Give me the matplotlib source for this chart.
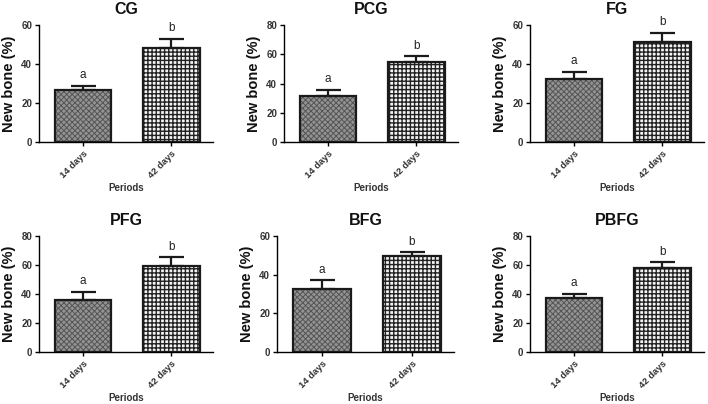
import matplotlib
matplotlib.use("Agg")
import matplotlib.pyplot as plt
import numpy as np

plt.rcParams['font.family'] = ['Liberation Sans', 'DejaVu Sans']

groups = ["CG", "PCG", "FG", "PFG", "BFG", "PBFG"]
periods = ["14 days", "42 days"]
means = {
    "CG":   [26.7, 48.4],
    "PCG":  [31.5, 54.7],
    "FG":   [32.1, 51.3],
    "PFG":  [36.0, 59.4],
    "BFG":  [32.7, 49.8],
    "PBFG": [37.4, 58.0],
}
errors = {
    "CG":   [2.0, 4.4],
    "PCG":  [4.0, 3.9],
    "FG":   [3.8, 4.7],
    "PFG":  [5.3, 5.9],
    "BFG":  [4.4, 1.8],
    "PBFG": [2.9, 3.9],
}
ymax = {"CG": 60, "PCG": 80, "FG": 60, "PFG": 80, "BFG": 60, "PBFG": 80}
letters = ["a", "b"]

W, H = 708, 404
fig = plt.figure(figsize=(W / 100, H / 100), dpi=100)

boxes = {
    "CG":   (39, 25, 174, 117),
    "PCG":  (284, 25, 174, 117),
    "FG":   (530, 25, 174, 117),
    "PFG":  (39, 236, 174, 116),
    "BFG":  (277, 236, 177, 116),
    "PBFG": (530, 236, 174, 116),
}

for g in groups:
    x0, y0, w, h = boxes[g]
    ax = fig.add_axes([x0 / W, 1 - (y0 + h) / H, w / W, h / H])
    xs = np.arange(len(periods))
    m = means[g]
    e = errors[g]
    # hatched fills
    with plt.rc_context({'hatch.linewidth': 0.7}):
        ax.bar(xs[0], m[0], width=0.64, color="#939393", edgecolor="#555555",
               hatch="xxxxxx", linewidth=0, zorder=2)
    with plt.rc_context({'hatch.linewidth': 1.0}):
        ax.bar(xs[1], m[1], width=0.64, color="#f4f4f4", edgecolor="#222222",
               hatch="++++", linewidth=0, zorder=2)
    # outlines
    ax.bar(xs, m, width=0.64, color="none", edgecolor="#1a1a1a",
           linewidth=1.6, zorder=3)
    ax.errorbar(xs, m, yerr=[np.zeros(2), e], fmt="none", ecolor="#1a1a1a",
                elinewidth=1.6, capsize=9, capthick=1.6, zorder=4)
    for xi, mi, ei, lt in zip(xs, m, e, letters):
        ax.text(xi, mi + ei + ymax[g] * 0.04, lt, ha="center", va="bottom",
                fontsize=8.5, color="#222222")
    ax.set_xlim(-0.5, 1.47)
    ax.set_ylim(0, ymax[g])
    ax.set_yticks(np.arange(0, ymax[g] + 1, 20))
    ax.set_xticks(xs)
    ax.set_xticklabels(periods, rotation=45, ha="right", rotation_mode="anchor",
                       fontsize=6.8, fontweight="bold", color="#333333")
    for lab in ax.get_yticklabels():
        lab.set_fontsize(7)
        lab.set_fontweight("bold")
        lab.set_color("#333333")
    ax.spines["top"].set_visible(False)
    ax.spines["right"].set_visible(False)
    ax.spines["left"].set_linewidth(1.0)
    ax.spines["bottom"].set_linewidth(1.0)
    ax.tick_params(axis="both", length=3, width=1.0, pad=2)
    ax.set_title(g, fontsize=11.5, fontweight="bold", pad=8, color="#111111")
    ax.set_ylabel("New bone (%)", fontsize=10.5, fontweight="bold", color="#111111", labelpad=4)
    ax.set_xlabel("Periods", fontsize=7, fontweight="bold", color="#333333", labelpad=2)

fig.savefig("out.png", dpi=100, facecolor="white")
